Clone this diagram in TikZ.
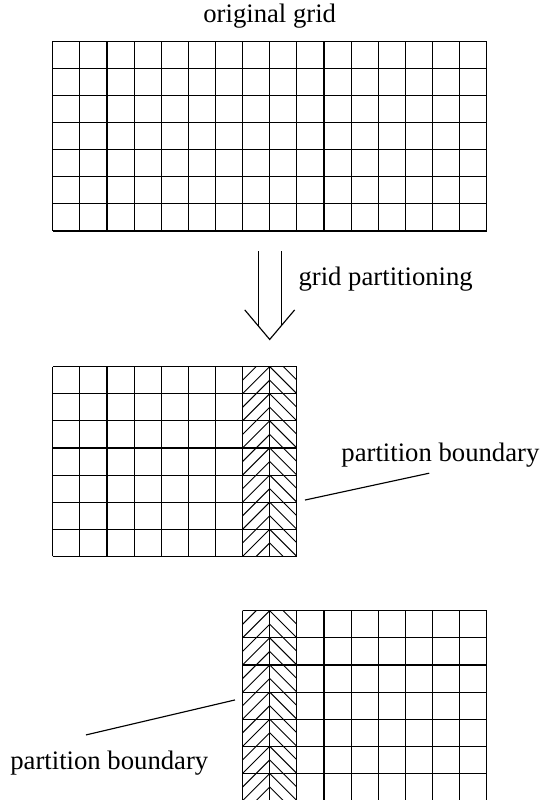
\documentclass[tikz,border=0pt]{standalone}
\usepackage{fontspec}
\setmainfont{Liberation Serif}
\usetikzlibrary{calc}

\tikzset{
  lbl/.style={inner sep=0pt, font=\fontsize{14}{16.8}\selectfont},
  gridline/.style={line width=0.6pt},
  hatchline/.style={line width=0.5pt}
}

\begin{document}
\begin{tikzpicture}[x=0.5cm, y=0.5cm]
    \useasboundingbox (-1.943,0.022) rectangle (18.002,29.515);

    % Original grid
    \draw[gridline, step=0.5cm] (0,21) grid (16,28);
    \node[lbl, anchor=base] (title) at (8,28.68) {original grid};

    % Partitioning arrow
    \coordinate (arrTop) at (8,20.25);
    \coordinate (arrTip) at (8,17);
    \draw[gridline] ($(arrTop)+(-0.42,0)$) -- ($(arrTip)+(-0.42,0.5)$);
    \draw[gridline] ($(arrTop)+(0.42,0)$) -- ($(arrTip)+(0.42,0.5)$);
    \draw[gridline] ($(arrTip)+(-0.92,1.09)$) -- (arrTip) -- ($(arrTip)+(0.92,1.09)$);
    \node[lbl, anchor=base west] (step) at (9.05,19) {grid partitioning};

    % Left partition with hatched boundary
    \begin{scope}
        \clip (7,9) rectangle (8,16);
        \foreach \y in {9,9.5,...,17} \draw[hatchline] (7,\y-1) -- (8,\y);
    \end{scope}
    \begin{scope}
        \clip (8,9) rectangle (9,16);
        \foreach \y in {9,9.5,...,17} \draw[hatchline] (8,\y) -- (9,\y-1);
    \end{scope}
    \draw[gridline, step=0.5cm] (0,9) grid (9,16);
    \node[lbl, anchor=base west] (bndA) at (10.63,12.49) {partition boundary};
    \coordinate (bndAend) at (9.30,11.08);
    \draw[gridline] ($(bndA.base west)+(3.25,-0.42)$) -- (bndAend);

    % Right partition with hatched boundary
    \begin{scope}
        \clip (7,0) rectangle (8,7);
        \foreach \y in {0,0.5,...,8} \draw[hatchline] (7,\y-1) -- (8,\y);
    \end{scope}
    \begin{scope}
        \clip (8,0) rectangle (9,7);
        \foreach \y in {0,0.5,...,8} \draw[hatchline] (8,\y) -- (9,\y-1);
    \end{scope}
    \draw[gridline, step=0.5cm] (7,0) grid (16,7);
    \node[lbl, anchor=base west] (bndB) at (-1.575,1.15) {partition boundary};
    \coordinate (bndBend) at (6.72,3.71);
    \draw[gridline] ($(bndB.base west)+(2.80,1.27)$) -- (bndBend);
\end{tikzpicture}
\end{document}
